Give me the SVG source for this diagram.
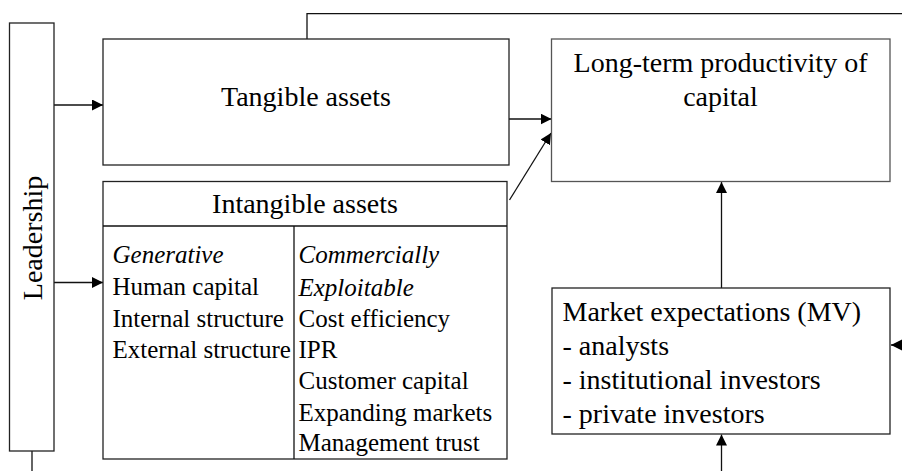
<svg xmlns="http://www.w3.org/2000/svg" width="902" height="471" viewBox="0 0 902 471">
  <style>
    .box { fill: #fff; stroke: #222; stroke-width: 1.3; }
    .box2 { fill: #fff; stroke: #555; stroke-width: 1.3; }
    .ln { fill: none; stroke: #111; stroke-width: 1.3; }
    text { font-family: "Liberation Serif", "DejaVu Serif", serif; fill: #000; }
    .big { font-size: 28px; }
    .col { font-size: 25px; }
    .it { font-style: italic; }
  </style>
  <defs>
    <marker id="ah" markerUnits="userSpaceOnUse" markerWidth="12" markerHeight="12" refX="11" refY="5.5" orient="auto">
      <path d="M0,0 L11,5.5 L0,11 z" fill="#000"/>
    </marker>
  </defs>

  <g id="connectors">
    <path class="ln" d="M307,39 V13.7 H906 V345 H891" marker-end="url(#ah)"/>
    <line class="ln" x1="54" y1="105" x2="103" y2="105" marker-end="url(#ah)"/>
    <line class="ln" x1="54" y1="282.5" x2="103" y2="282.5" marker-end="url(#ah)"/>
    <line class="ln" x1="509" y1="119" x2="551.5" y2="119" marker-end="url(#ah)"/>
    <line class="ln" x1="509.5" y1="200" x2="551" y2="133" marker-end="url(#ah)"/>
    <line class="ln" x1="721.5" y1="288" x2="721.5" y2="182" marker-end="url(#ah)"/>
    <line class="ln" x1="721.5" y1="471" x2="721.5" y2="434.5" marker-end="url(#ah)"/>
    <line class="ln" x1="32" y1="451" x2="32" y2="471"/>
  </g>

  <g id="leadership">
    <rect class="box" x="9.5" y="23" width="44.5" height="428"/>
    <text class="big" text-anchor="middle" transform="translate(42,238) rotate(-90)">Leadership</text>
  </g>

  <g id="tangible">
    <rect class="box" x="103" y="39" width="406" height="126"/>
    <text class="big" x="306" y="105.5" text-anchor="middle">Tangible assets</text>
  </g>

  <g id="intangible">
    <rect class="box" x="103" y="181.5" width="404" height="277.5"/>
    <line class="ln" x1="103" y1="226" x2="507" y2="226"/>
    <line class="ln" x1="294" y1="226" x2="294" y2="459"/>
    <text class="big" x="305" y="213" text-anchor="middle">Intangible assets</text>
    <text class="col it" x="112.5" y="263">Generative</text>
    <text class="col" x="112.5" y="295">Human capital</text>
    <text class="col" x="112.5" y="326.5">Internal structure</text>
    <text class="col" x="112.5" y="357.5">External structure</text>
    <text class="col it" x="298.5" y="263">Commercially</text>
    <text class="col it" x="298.5" y="296">Exploitable</text>
    <text class="col" x="298.5" y="326.5">Cost efficiency</text>
    <text class="col" x="298.5" y="358">IPR</text>
    <text class="col" x="298.5" y="389">Customer capital</text>
    <text class="col" x="298.5" y="420.5">Expanding markets</text>
    <text class="col" x="298.5" y="450.5">Management trust</text>
  </g>

  <g id="productivity">
    <rect class="box2" x="551.5" y="39" width="338.5" height="142.5"/>
    <text class="big" x="720.5" y="72" text-anchor="middle">Long-term productivity of</text>
    <text class="big" x="720.5" y="106" text-anchor="middle">capital</text>
  </g>

  <g id="market">
    <rect class="box" x="552" y="288" width="338" height="146"/>
    <text class="big" x="562.5" y="321">Market expectations (MV)</text>
    <text class="big" x="562.5" y="355">- analysts</text>
    <text class="big" x="562.5" y="388.5">- institutional investors</text>
    <text class="big" x="562.5" y="422.5">- private investors</text>
  </g>
</svg>
